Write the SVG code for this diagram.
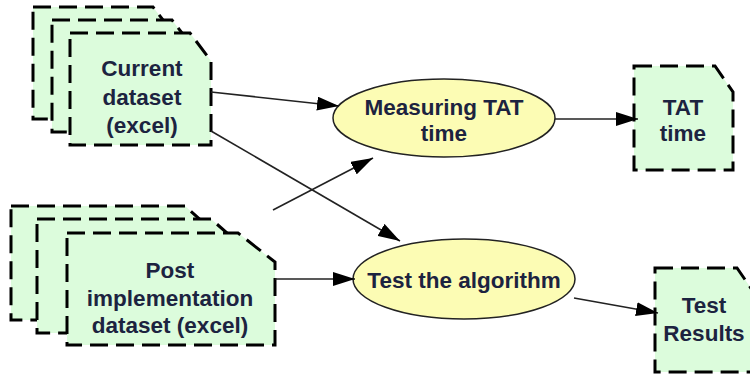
<svg xmlns="http://www.w3.org/2000/svg" width="750" height="374" viewBox="0 0 750 374">
<defs>
<style>
.doc{fill:#dcfcdc;stroke:#000;stroke-width:3;stroke-dasharray:18 8;}
.proc{fill:#fcfcb4;stroke:#222;stroke-width:1.5;}
.t{font-family:"Liberation Sans",Arial,sans-serif;font-weight:bold;font-size:22.5px;fill:#1c2340;text-anchor:middle;}
.c{stroke:#222;stroke-width:1.6;fill:none;marker-end:url(#ah);}
</style>
<marker id="ah" viewBox="0 0 22 14" refX="22" refY="7" markerWidth="22" markerHeight="14" markerUnits="userSpaceOnUse" orient="auto">
<path d="M0,0 L22,7 L0,14 Z" fill="#000"/>
</marker>
</defs>
<rect width="750" height="374" fill="#fff"/>
<g id="current-dataset">
<path class="doc" d="M33,7 H153 L173,33 V119 H33 Z"/>
<path class="doc" d="M52,20 H172 L192,46 V132 H52 Z"/>
<path class="doc" d="M70,33 H190 L211,61 V145 H70 Z"/>
<text class="t" x="142" y="76">Current</text>
<text class="t" x="142" y="105">dataset</text>
<text class="t" x="142" y="133">(excel)</text>
</g>
<g id="post-dataset">
<path class="doc" d="M11,206 H185 L215,233 V320 H11 Z"/>
<path class="doc" d="M37,219 H211 L242,246 V333 H37 Z"/>
<path class="doc" d="M67,233 H238 L275,262 V345 H67 Z"/>
<text class="t" x="170" y="278">Post</text>
<text class="t" x="170" y="306">implementation</text>
<text class="t" x="170" y="333">dataset (excel)</text>
</g>
<g id="measuring">
<ellipse class="proc" cx="444" cy="118" rx="111" ry="39"/>
<text class="t" x="444" y="115">Measuring TAT</text>
<text class="t" x="444" y="141">time</text>
</g>
<g id="test-algorithm">
<ellipse class="proc" cx="464" cy="279" rx="111" ry="40"/>
<text class="t" x="464" y="288">Test the algorithm</text>
</g>
<g id="tat-time">
<path class="doc" d="M634,66 H715 L733,92 V170 H634 Z"/>
<text class="t" x="683" y="115">TAT</text>
<text class="t" x="683" y="141">time</text>
</g>
<g id="test-results">
<path class="doc" d="M655,268 H737 L755,294 V372 H655 Z"/>
<text class="t" x="704" y="313">Test</text>
<text class="t" x="704" y="341">Results</text>
</g>
<g id="connectors">
<line class="c" x1="211" y1="92" x2="339" y2="106"/>
<line class="c" x1="211" y1="131" x2="400" y2="241"/>
<line class="c" x1="273" y1="210" x2="373" y2="158"/>
<line class="c" x1="275" y1="279" x2="355" y2="279"/>
<line class="c" x1="555" y1="119" x2="638" y2="119"/>
<line class="c" x1="574" y1="298" x2="658" y2="313"/>
</g>
</svg>
